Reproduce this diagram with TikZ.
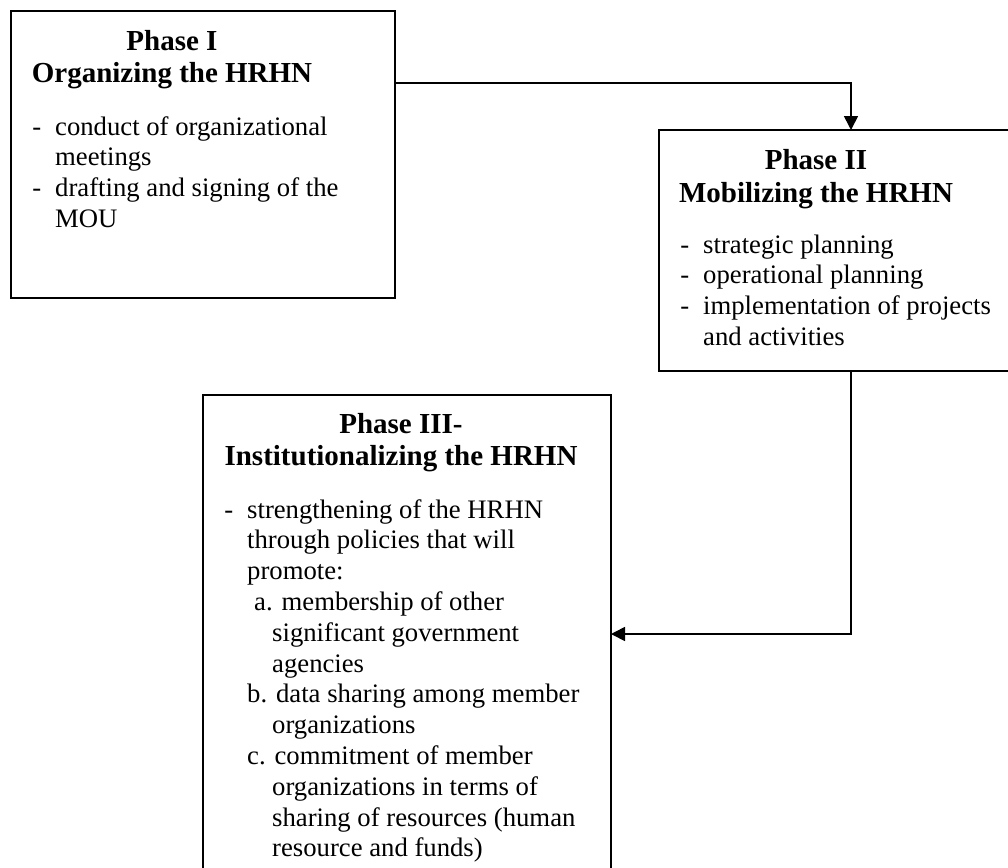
\documentclass[tikz,border=0pt]{standalone}
\usepackage{fontspec}
\setmainfont{Liberation Serif}
\usetikzlibrary{positioning,arrows.meta}

\newcommand{\dashitem}[1]{\llap{-\hspace{14pt}}#1}

\begin{document}
\begin{tikzpicture}[x=1pt,y=-1pt,
  phasebox/.style={draw,line width=2pt,outer sep=0pt,inner sep=0pt,anchor=north west},
  phasetitle/.style={font=\fontsize{29}{32}\selectfont\bfseries,anchor=base,inner sep=0pt},
  phaseline/.style={font=\fontsize{26.7}{30.7}\selectfont,anchor=base west,inner sep=0pt},
  link/.style={line width=1.7pt,-{Triangle[length=14pt,width=14pt]}}]
    \useasboundingbox (0,0) rectangle (1008,867);
    \fill[white] (0,0) rectangle (1008,867);
    \clip (0,0) rectangle (1008,867);

    % the three phases
    \node[phasebox,minimum width=384pt,minimum height=287pt] (ph1) at (11,11) {};
    \node[phasebox,minimum width=400pt,minimum height=241pt] (ph2) at (659,130) {};
    \node[phasebox,minimum width=408pt,minimum height=505pt] (ph3) at (203,395) {};

    \node[phasetitle] (t1a) at (172,50) {Phase I};
    \node[phasetitle] (t1b) at (172,82) {Organizing the HRHN};
    \node[phasetitle] (t2a) at (816,169) {Phase II};
    \node[phasetitle] (t2b) at (816,202) {Mobilizing the HRHN};
    \node[phasetitle] (t3a) at (401,433) {Phase III-};
    \node[phasetitle] (t3b) at (401,465) {Institutionalizing the HRHN};

    \foreach \x/\t [count=\i] in {55/\dashitem{conduct of organizational}, 55/meetings,
      55/\dashitem{drafting and signing of the}, 55/MOU}
      \node[phaseline] (p1l\i) at (\x,{135+30.7*(\i-1)}) {\t};

    \foreach \x/\t [count=\i] in {703/\dashitem{strategic planning}, 703/\dashitem{operational planning},
      703/\dashitem{implementation of projects}, 703/and activities}
      \node[phaseline] (p2l\i) at (\x,{253+30.7*(\i-1)}) {\t};

    \foreach \x/\t [count=\i] in {247/\dashitem{strengthening of the HRHN}, 247/through policies that will,
      247/promote:, 254/a. membership of other, 272/significant government, 272/agencies,
      247/b. data sharing among member, 272/organizations, 247/c. commitment of member,
      272/organizations in terms of, 272/sharing of resources (human, 272/resource and funds)}
      \node[phaseline] (p3l\i) at (\x,{518+30.8*(\i-1)}) {\t};

    % connectors
    \draw[link] ([yshift=-72pt]ph1.north east) -| ([xshift=192pt]ph2.north west);
    \draw[link] ([xshift=192pt]ph2.south west) |- ([yshift=-239pt]ph3.north east);
\end{tikzpicture}
\end{document}
